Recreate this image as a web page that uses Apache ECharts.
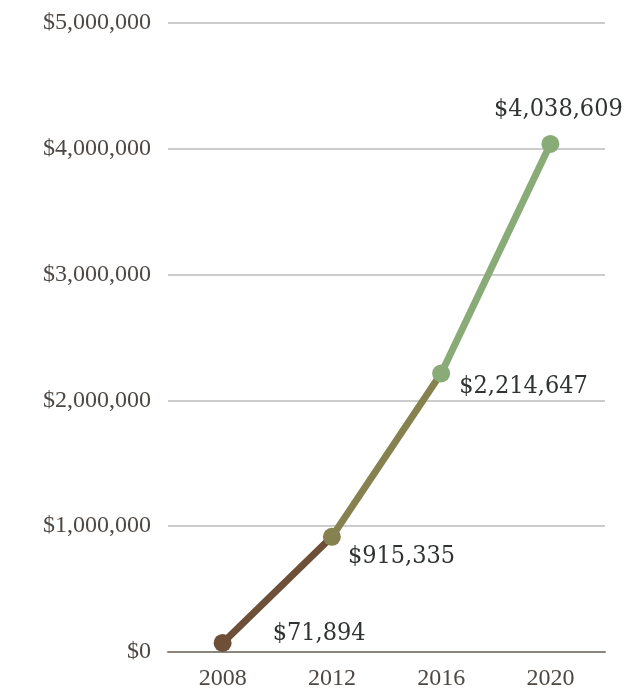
<!DOCTYPE html>
<html>
<head>
<meta charset="utf-8">
<script src="https://cdn.jsdelivr.net/npm/echarts@6/dist/echarts.min.js"></script>
<style>
  html, body { margin: 0; padding: 0; background: #fff; }
  #chart { width: 628px; height: 692px; }
</style>
</head>
<body>
<div id="chart"></div>
<script>
var years = ['2008', '2012', '2016', '2020'];
var totals = [71894, 915335, 2214647, 4038609];

// label placement per point (style only)
var labelPlace = [
    {position: 'right', offset: [36, -9]},
    {position: 'right', offset: [2, 20]},
    {position: 'right', offset: [4, 13]},
    {position: 'top', offset: [8, -8]}
];

function money(v) {
    return '$' + v.toLocaleString('en-US');
}

var seriesData = totals.map(function (v, i) {
    return {
        value: v,
        label: labelPlace[i]
    };
});

var myChart = echarts.init(document.getElementById('chart'));

var option = {
    animation: false,
    grid: {
        left: 168,
        right: 23,
        top: 23,
        bottom: 40
    },
    visualMap: {
        show: false,
        type: 'piecewise',
        dimension: 0,
        pieces: [
            {gte: 0, lt: 1, color: '#6e4f37'},
            {gte: 1, lt: 2, color: '#85824f'},
            {gte: 2, lte: 3, color: '#88ab78'}
        ]
    },
    xAxis: {
        type: 'category',
        data: years,
        axisTick: {show: false},
        axisLine: {lineStyle: {color: '#8c857e', width: 2}},
        axisLabel: {
            margin: 15,
            color: '#4d4843',
            fontFamily: 'Liberation Serif',
            fontSize: 24
        }
    },
    yAxis: {
        type: 'value',
        min: 0,
        max: 5000000,
        interval: 1000000,
        axisLine: {show: false},
        axisTick: {show: false},
        splitLine: {lineStyle: {color: '#cccccc', width: 2}},
        axisLabel: {
            margin: 17,
            color: '#4d4843',
            fontFamily: 'Liberation Serif',
            fontSize: 24,
            formatter: function (v) { return money(v); }
        }
    },
    series: [
        {
            type: 'line',
            data: seriesData,
            symbol: 'circle',
            symbolSize: 18,
            lineStyle: {width: 7},
            label: {
                show: true,
                color: '#2f3332',
                fontFamily: 'DejaVu Serif Condensed, Liberation Serif',
                fontSize: 25,
                formatter: function (p) { return money(p.value); }
            }
        }
    ]
};

myChart.setOption(option);
</script>
</body>
</html>
